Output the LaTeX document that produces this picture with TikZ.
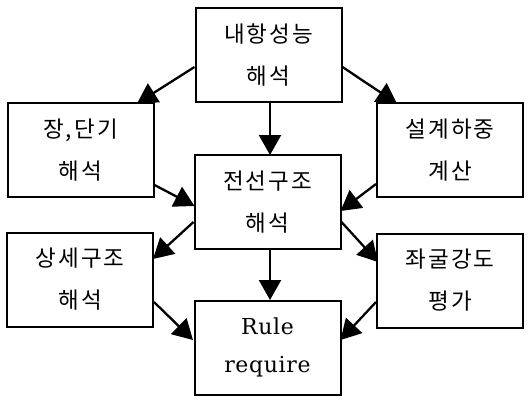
\documentclass[tikz,border=0pt]{standalone}
\usepackage{fontspec}
\usetikzlibrary{arrows.meta}
\newfontfamily\kfont[LetterSpace=9]{Noto Sans CJK KR}
\newfontfamily\lfont[LetterSpace=3]{DejaVu Serif}
\begin{document}
\begin{tikzpicture}[x=1pt,y=-1pt,
  box/.style={draw,line width=2pt,minimum width=146pt,minimum height=94pt,inner sep=0pt,
    align=center,font=\kfont\fontsize{22.5pt}{42pt}\selectfont},
  arr/.style={line width=2.3pt,-{Triangle[length=20pt,width=22pt]}}]
\useasboundingbox (0,0) rectangle (528,397);
\node[box] (top) at (268.5,55) {내항성능\\해석};
\node[box] (lt) at (80.5,150) {장,단기\\해석};
\node[box] (rt) at (450,150) {설계하중\\계산};
\node[box] (mid) at (267.5,202) {전선구조\\해석};
\node[box] (lb) at (80,279.5) {상세구조\\해석};
\node[box] (rb) at (450,280.5) {좌굴강도\\평가};
\node[box,font=\lfont\fontsize{22pt}{38pt}\selectfont] (rule) at (267.5,347.5) {Rule\\require};
\coordinate (t1) at (137,103.5);
\coordinate (t2) at (397,103.5);
\draw[arr] (top.west |- 0,67) -- (t1);
\draw[arr] (top.east |- 0,67) -- (t2);
\draw[arr] (270,102) -- (270,155);
\draw[arr] (lt.east |- 0,185) -- (194.5,206);
\draw[arr] (rt.west |- 0,184) -- (340.5,211);
\draw[arr] (mid.west |- 0,222) -- (153,259);
\draw[arr] (mid.east |- 0,222) -- (378,262);
\draw[arr] (270,249) -- (270,300);
\draw[arr] (lb.east |- 0,302) -- (193,340);
\draw[arr] (rb.west |- 0,302) -- (340.5,340);
\end{tikzpicture}
\end{document}
